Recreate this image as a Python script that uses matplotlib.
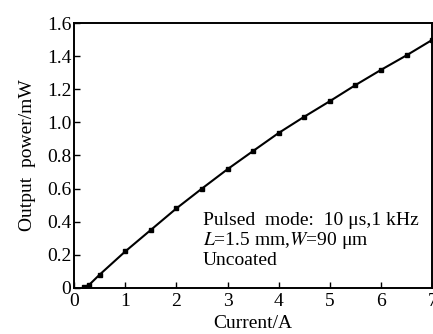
import numpy as np
import matplotlib.pyplot as plt

plt.rcParams['font.family'] = ['Liberation Serif', 'DejaVu Serif']
plt.rcParams['mathtext.fontset'] = 'stix'

# 電流 / 輸出功率
current = [0.2, 0.3, 0.5, 1.0, 1.5, 2.0, 2.5, 3.0, 3.5, 4.0, 4.5, 5.0, 5.5, 6.0, 6.5, 7.0]
power = [0.005, 0.02, 0.08, 0.22, 0.35, 0.48, 0.60, 0.717, 0.827, 0.936, 1.034, 1.128, 1.225, 1.317, 1.405, 1.498]
xticks = [0, 1, 2, 3, 4, 5, 6, 7]
yticks = [0, 0.2, 0.4, 0.6, 0.8, 1.0, 1.2, 1.4, 1.6]
ytick_labels = ['0', '0.2', '0.4', '0.6', '0.8', '1.0', '1.2', '1.4', '1.6']

fs = 14
fig = plt.figure(figsize=(4.33, 3.34), dpi=100)
ax = fig.add_axes([0.171, 0.138, 0.827, 0.793])

ax.plot(current, power, color='black', lw=1.5, marker='s', ms=3.5, mfc='black', mec='black')

ax.set_xlim(0, 7)
ax.set_ylim(0, 1.6)
ax.set_xticks(xticks)
ax.set_yticks(yticks)
ax.set_yticklabels(ytick_labels)
ax.tick_params(direction='in', length=4, width=1, labelsize=fs)
ax.tick_params(axis='x', pad=4)
ax.tick_params(axis='y', pad=2)
for s in ax.spines.values():
    s.set_linewidth(1.4)

ax.set_xlabel('Current/A', fontsize=fs, labelpad=3)
ax.set_ylabel('Output  power/mW', fontsize=fs, labelpad=8)

ax.text(2.52, 0.405, 'Pulsed  mode:  10 \u03bcs,1 kHz', fontsize=fs, va='center')
ax.text(2.52, 0.284, '$L$=1.5 mm,$W$=90 \u03bcm', fontsize=fs, va='center')
ax.text(2.52, 0.163, 'Uncoated', fontsize=fs, va='center')

fig.savefig('out.png', dpi=100)
